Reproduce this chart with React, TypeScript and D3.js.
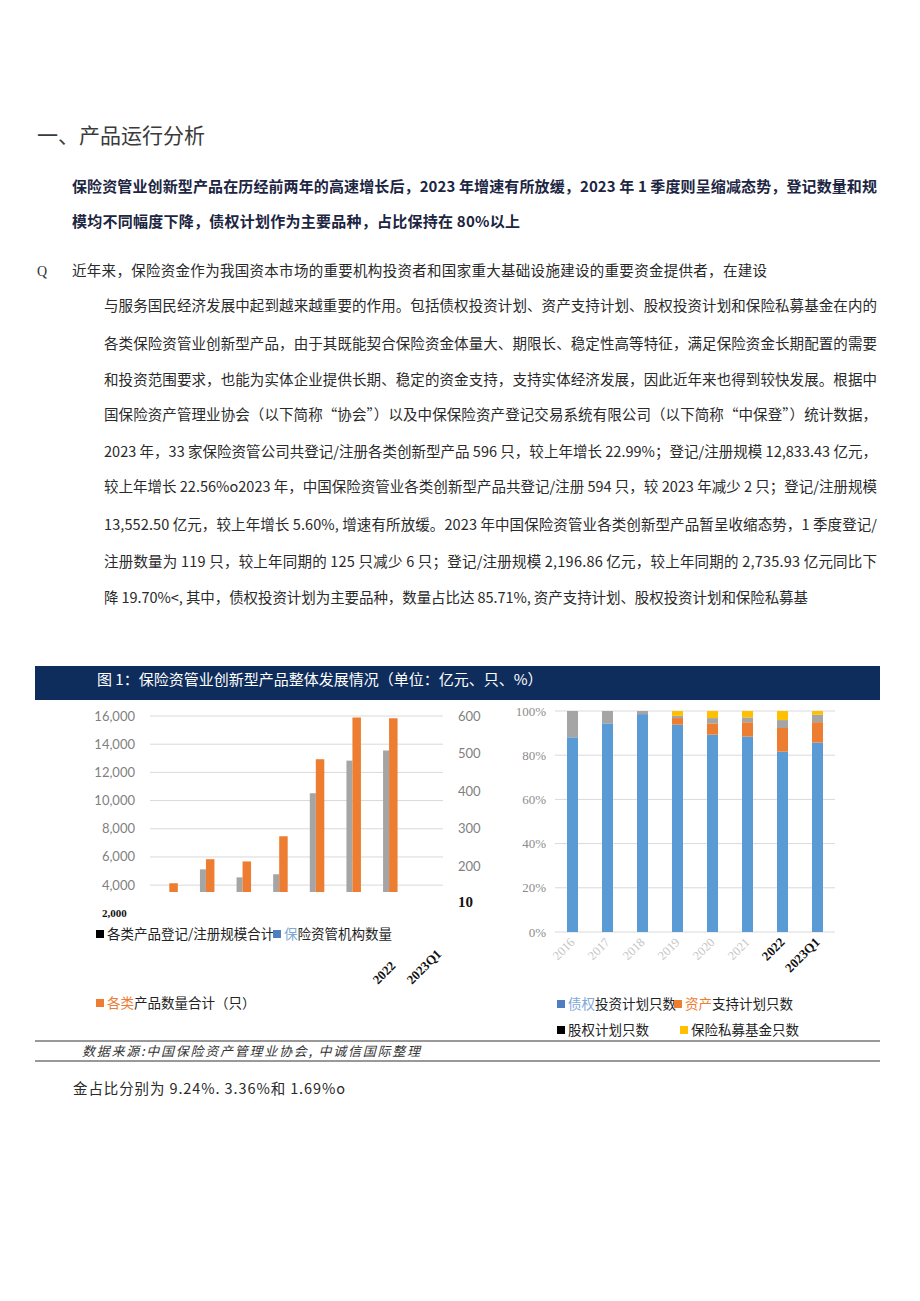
import React from "react";
import * as d3 from "d3";

const years = ["2016", "2017", "2018", "2019", "2020", "2021", "2022", "2023Q1"];
const scaleTotal = [3000, 5120, 4550, 4770, 10520, 12833.43, 13552.5, 2196.86];
const productCount = [155, 219, 213, 280, 485, 596, 594, 119];
const leftTicks = [16000, 14000, 12000, 10000, 8000, 6000, 4000];
const rightTicks = [600, 500, 400, 300, 200];

const debtShare = [88.1, 94.4, 98.6, 93.8, 89.3, 88.4, 81.6, 85.71];
const absShare = [0, 0, 0, 3.0, 5.1, 6.5, 10.7, 9.24];
const equityShare = [11.9, 5.6, 1.4, 1.0, 2.4, 2.2, 3.6, 3.36];
const privateFundShare = [0, 0, 0, 2.2, 3.2, 2.9, 4.1, 1.69];
const pctTicks = [0, 20, 40, 60, 80, 100];

const titleText = "一、产品运行分析";
const boldLines = [
  "保险资管业创新型产品在历经前两年的高速增长后，2023 年增速有所放缓，2023 年 1 季度则呈缩减态势，登记数量和规",
  "模均不同幅度下降，债权计划作为主要品种，占比保持在 80%以上",
];
const bodyLines = [
  "近年来，保险资金作为我国资本市场的重要机构投资者和国家重大基础设施建设的重要资金提供者，在建设",
  "与服务国民经济发展中起到越来越重要的作用。包括债权投资计划、资产支持计划、股权投资计划和保险私募基金在内的",
  "各类保险资管业创新型产品，由于其既能契合保险资金体量大、期限长、稳定性高等特征，满足保险资金长期配置的需要",
  "和投资范围要求，也能为实体企业提供长期、稳定的资金支持，支持实体经济发展，因此近年来也得到较快发展。根据中",
  "国保险资产管理业协会（以下简称“协会”）以及中保保险资产登记交易系统有限公司（以下简称“中保登”）统计数据，",
  "2023 年，33 家保险资管公司共登记/注册各类创新型产品 596 只，较上年增长 22.99%；登记/注册规模 12,833.43 亿元，",
  "较上年增长 22.56%o2023 年，中国保险资管业各类创新型产品共登记/注册 594 只，较 2023 年减少 2 只；登记/注册规模",
  "13,552.50 亿元，较上年增长 5.60%, 增速有所放缓。2023 年中国保险资管业各类创新型产品暂呈收缩态势，1 季度登记/",
  "注册数量为 119 只，较上年同期的 125 只减少 6 只；登记/注册规模 2,196.86 亿元，较上年同期的 2,735.93 亿元同比下",
  "降 19.70%<, 其中，债权投资计划为主要品种，数量占比达 85.71%, 资产支持计划、股权投资计划和保险私募基",
];
const afterLine = "金占比分别为 9.24%. 3.36%和 1.69%o";
const figTitle = "图 1：保险资管业创新型产品整体发展情况（单位：亿元、只、%）";
const sourceText = "数据来源:中国保险资产管理业协会, 中诚信国际整理";

const CJK = "'Noto Sans CJK SC', 'Noto Sans', sans-serif";
const SERIF = "'Liberation Serif', 'DejaVu Serif', serif";
const BLUE = "#5b9bd5";
const ORANGE = "#ed7d31";
const GRAY = "#a5a5a5";
const YELLOW = "#ffc000";

export default function App() {
  // body layout
  const bodyY = [276, 311, 349, 385, 420, 457, 492, 530, 567, 603];
  const bodyX = (i: number) => (i === 0 ? 72 : 104);
  const bodyEnd = (i: number) => (i === 0 ? 767 : i === 9 ? 808 : 877);

  // left chart
  const xL = d3.scaleBand<string>().domain(years).range([150, 443]).padding(0);
  const yL = d3.scaleLinear().domain([0, 16000]).range([941.5, 716]);
  const yR = d3.scaleLinear().domain([0, 600]).range([941.5, 716]);

  // right chart
  const xR = d3.scaleBand<string>().domain(years).range([555, 835]).padding(0);
  const yP = d3.scaleLinear().domain([0, 100]).range([932, 711]);
  const rows = years.map((y, i) => ({
    year: y,
    debt: debtShare[i],
    abs: absShare[i],
    equity: equityShare[i],
    pf: privateFundShare[i],
  }));
  const keys = ["debt", "abs", "equity", "pf"];
  const colors: Record<string, string> = { debt: BLUE, abs: ORANGE, equity: GRAY, pf: YELLOW };
  const stacked = d3.stack<any>().keys(keys)(rows);

  return (
    <div style={{ position: "absolute", left: 0, top: 0 }}>
      <svg width={920} height={1301} style={{ display: "block", background: "#fff" }}>
        <defs>
          <clipPath id="leftClip">
            <rect x={140} y={700} width={320} height={192} />
          </clipPath>
        </defs>
        {/* section title */}
        <text x={37} y={143} fontFamily={CJK} fontSize={21} fill="#3a3a3a">
          {titleText}
        </text>
        {boldLines.map((l, i) => (
          <text
            key={i}
            x={72}
            y={192 + i * 35}
            fontFamily={CJK}
            fontSize={15}
            fontWeight={700}
            fill="#1c2541"
            textLength={i === 0 ? 805 : 448}
            lengthAdjust="spacing"
          >
            {l}
          </text>
        ))}
        <text x={37} y={276} fontFamily={SERIF} fontSize={14} fill="#333">
          Q
        </text>
        {bodyLines.map((l, i) => (
          <text
            key={i}
            x={bodyX(i)}
            y={bodyY[i]}
            fontFamily={CJK}
            fontSize={14.5}
            fill="#2a2a2a"
            textLength={bodyEnd(i) - bodyX(i)}
            lengthAdjust="spacing"
          >
            {l}
          </text>
        ))}

        {/* figure header */}
        <rect x={35} y={666} width={845} height={34} fill="#0f2d5c" />
        <text x={97} y={685} fontFamily={CJK} fontSize={15} fill="#fff">
          {figTitle}
        </text>

        {/* left chart */}
        <g>
          {leftTicks.map((t) => (
            <g key={t}>
              <line x1={150} x2={443} y1={yL(t)} y2={yL(t)} stroke="#d9d9d9" strokeWidth={1} />
              <text x={135} y={yL(t) + 4.5} textAnchor="end" fontFamily="Lato, 'Open Sans', sans-serif" fontSize={13} fill="#7f7f7f">
                {d3.format(",")(t)}
              </text>
            </g>
          ))}
          {rightTicks.map((t) => (
            <text key={t} x={458} y={yR(t) + 4.5} fontFamily="Lato, 'Open Sans', sans-serif" fontSize={13} fill="#7f7f7f">
              {t}
            </text>
          ))}
          <g clipPath="url(#leftClip)">
            {years.map((y, i) => {
              const c = (xL(y) as number) + xL.bandwidth() / 2;
              return (
                <g key={y}>
                  <rect x={c - 5} y={yL(scaleTotal[i])} width={6} height={941.5 - yL(scaleTotal[i])} fill={GRAY} />
                  <rect x={c + 1} y={yR(productCount[i])} width={8.5} height={941.5 - yR(productCount[i])} fill={ORANGE} />
                </g>
              );
            })}
          </g>
          <text x={102} y={917} fontFamily={SERIF} fontSize={11} fontWeight={700} fill="#111">
            2,000
          </text>
          <text x={458} y={907} fontFamily={SERIF} fontSize={15} fontWeight={700} fill="#111">
            10
          </text>
          {/* legend */}
          <rect x={96} y={930} width={8} height={8} fill="#000" />
          <text x={107} y={939} fontFamily={CJK} fontSize={13.5} fill="#222">
            各类产品登记/注册规模合计
          </text>
          <rect x={273} y={930} width={8} height={8} fill="#4f7ec1" />
          <text x={284} y={939} fontFamily={CJK} fontSize={13.5} fill="#222">
            <tspan fill="#7fa7da">保</tspan>险资管机构数量
          </text>
          {years.slice(6).map((y, i) => (
            <text
              key={y}
              transform={`translate(${378 + i * 34},${985}) rotate(-45)`}
              fontFamily={SERIF}
              fontSize={13}
              fontWeight={700}
              fill="#111"
            >
              {y}
            </text>
          ))}
          <rect x={96} y={999} width={8} height={8} fill={ORANGE} />
          <text x={107} y={1008} fontFamily={CJK} fontSize={13.5} fill="#222">
            <tspan fill={ORANGE}>各类</tspan>产品数量合计（只）
          </text>
        </g>

        {/* right chart */}
        <g>
          {pctTicks.map((t) => (
            <g key={t}>
              <line x1={555} x2={835} y1={yP(t)} y2={yP(t)} stroke="#d9d9d9" strokeWidth={1} />
              <text x={546} y={yP(t) + 4.5} textAnchor="end" fontFamily={SERIF} fontSize={13} fill="#8c8c8c">
                {t}%
              </text>
            </g>
          ))}
          {stacked.map((s) => (
            <g key={s.key} fill={colors[s.key]}>
              {s.map((d, i) => {
                const c = (xR(years[i]) as number) + xR.bandwidth() / 2;
                return (
                  <rect key={i} x={c - 5.5} y={yP(d[1])} width={11} height={Math.max(0, yP(d[0]) - yP(d[1]))} />
                );
              })}
            </g>
          ))}
          {years.map((y, i) => {
            const c = (xR(y) as number) + xR.bandwidth() / 2;
            const last = i >= 6;
            return (
              <text
                key={y}
                transform={`translate(${c + 3},${943}) rotate(-45)`}
                textAnchor="end"
                fontFamily={SERIF}
                fontSize={last ? 13 : 12.5}
                fontWeight={last ? 700 : 400}
                fill={last ? "#111" : "#c4c4c4"}
              >
                {y}
              </text>
            );
          })}
          {/* legend */}
          <rect x={557} y={1000} width={8} height={8} fill="#4f7ec1" />
          <text x={568} y={1009} fontFamily={CJK} fontSize={13.5} fill="#222">
            <tspan fill="#7fa7da">债权</tspan>投资计划只数
          </text>
          <rect x={674} y={1000} width={8} height={8} fill={ORANGE} />
          <text x={685} y={1009} fontFamily={CJK} fontSize={13.5} fill="#222">
            <tspan fill={ORANGE}>资产</tspan>支持计划只数
          </text>
          <rect x={557} y={1026} width={8} height={8} fill="#000" />
          <text x={568} y={1035} fontFamily={CJK} fontSize={13.5} fill="#222">
            股权计划只数
          </text>
          <rect x={680} y={1026} width={8} height={8} fill={YELLOW} />
          <text x={691} y={1035} fontFamily={CJK} fontSize={13.5} fill="#222">
            保险私募基金只数
          </text>
        </g>

        {/* source */}
        <line x1={35} x2={880} y1={1041} y2={1041} stroke="#777" strokeWidth={1.5} />
        <text x={82} y={1056} fontFamily={CJK} fontSize={13} fontStyle="italic" fill="#333" textLength={338} lengthAdjust="spacing">
          {sourceText}
        </text>
        <line x1={35} x2={880} y1={1061} y2={1061} stroke="#777" strokeWidth={1.5} />
        <text x={73} y={1094} fontFamily={CJK} fontSize={14.5} fill="#2a2a2a" textLength={272} lengthAdjust="spacing">
          {afterLine}
        </text>
      </svg>
    </div>
  );
}
